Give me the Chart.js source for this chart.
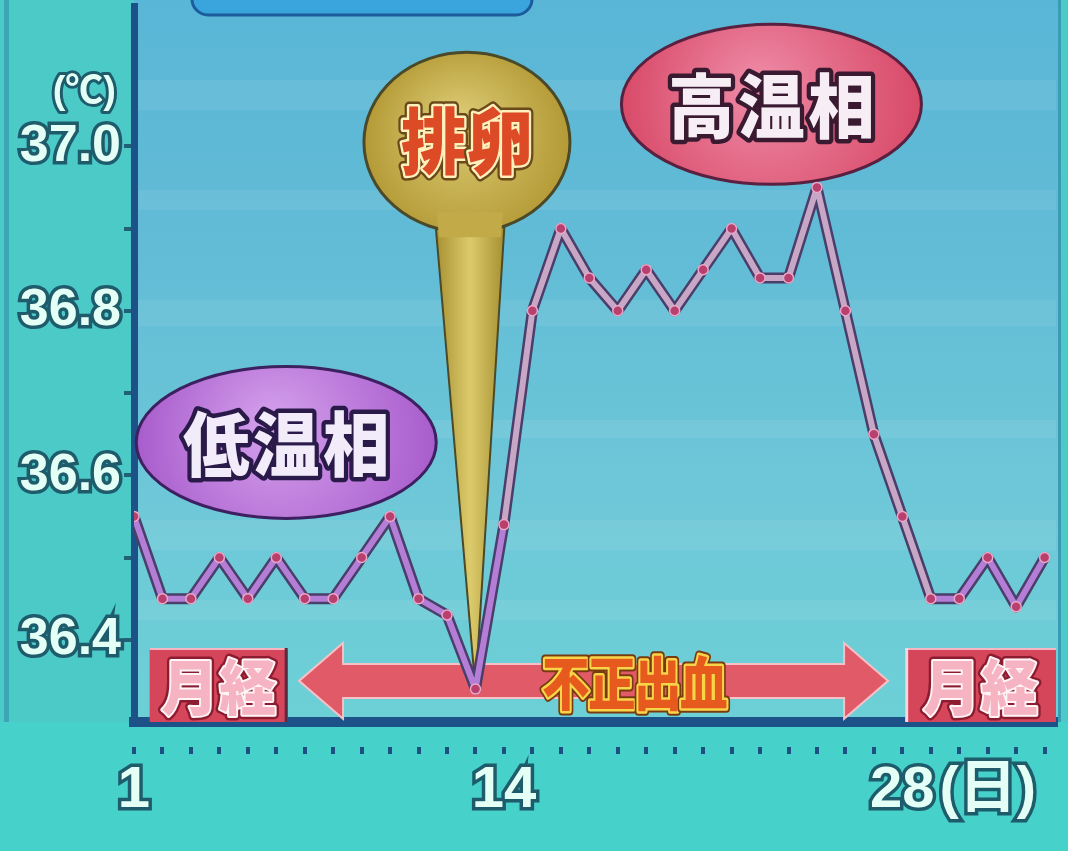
<!DOCTYPE html>
<html>
<head>
<meta charset="utf-8">
<script src="https://cdn.jsdelivr.net/npm/chart.js@4.4.1/dist/chart.umd.min.js"></script>
<style>
  html, body { margin: 0; padding: 0; background: #4ccac8; overflow: hidden; }
</style>
</head>
<body>
<canvas id="chart" width="1068" height="851"></canvas>
<script>
// data (suhu basal per hari)
const days = [1, 2, 3, 4, 5, 6, 7, 8, 9, 10, 11, 12, 13, 14, 15, 16, 17,
              18, 19, 20, 21, 22, 23, 24, 25, 26, 27, 28, 29, 30, 31, 32, 33];
const temps = [36.55, 36.45, 36.45, 36.50, 36.45, 36.50, 36.45, 36.45, 36.50, 36.55,
               36.45, 36.43, 36.34, 36.54, 36.80, 36.90, 36.84, 36.80, 36.85, 36.80,
               36.85, 36.90, 36.84, 36.84, 36.95, 36.80, 36.65, 36.55, 36.45, 36.45,
               36.50, 36.44, 36.50];
const yTicks = [36.4, 36.5, 36.6, 36.7, 36.8, 36.9, 37.0];
const yTickLabels = ['36.4', '', '36.6', '', '36.8', '', '37.0'];
const xTickLabels = { 1: '1', 14: '14', 28: '28', 31: '(日)' };
const unitLabel = '(℃)';

const NUM_FONT = "'Liberation Sans', 'Noto Sans CJK JP', sans-serif";
const CJK_FONT = "'Noto Sans CJK JP', sans-serif";

function outlinedText(ctx, text, x, y, size, fill, strokes, scaleX) {
    ctx.save();
    ctx.translate(x, y);
    ctx.scale(scaleX || 1, 1);
    ctx.font = '900 ' + size + 'px ' + CJK_FONT;
    ctx.textAlign = 'center';
    ctx.textBaseline = 'middle';
    ctx.lineJoin = 'round';
    strokes.forEach(s => {
        ctx.strokeStyle = s[0];
        ctx.lineWidth = s[1];
        ctx.strokeText(text, 0, 0);
    });
    ctx.fillStyle = fill;
    ctx.fillText(text, 0, 0);
    ctx.restore();
}

function chars(ctx, str, cx, cy, step, size, fill, strokes, scaleX) {
    const arr = Array.from(str);
    const start = cx - step * (arr.length - 1) / 2;
    arr.forEach((c, i) => outlinedText(ctx, c, start + i * step, cy, size, fill, strokes, scaleX));
}

function ellipse(ctx, cx, cy, rx, ry, inner, outer, line) {
    const g = ctx.createRadialGradient(cx - rx * 0.1, cy - ry * 0.25, 5, cx, cy, rx);
    g.addColorStop(0, inner);
    g.addColorStop(1, outer);
    ctx.beginPath();
    ctx.ellipse(cx, cy, rx, ry, 0, 0, Math.PI * 2);
    ctx.fillStyle = g;
    ctx.fill();
    ctx.lineWidth = 3;
    ctx.strokeStyle = line;
    ctx.stroke();
}

// latar belakang: area plot biru dan bingkai toska
const backgroundPlugin = {
    id: 'background',
    beforeDraw(chart) {
        const { ctx, chartArea: a, width, height } = chart;
        ctx.save();
        ctx.fillStyle = '#4ccac8';
        ctx.fillRect(0, 0, width, height);
        ctx.fillStyle = '#3aa6b6';
        ctx.fillRect(4, 0, 5, height);
        ctx.fillStyle = '#46d2ca';
        ctx.fillRect(0, a.bottom, width, height - a.bottom);

        const g = ctx.createLinearGradient(0, 0, 0, a.bottom);
        g.addColorStop(0, '#5ab6d6');
        g.addColorStop(0.35, '#62bcd6');
        g.addColorStop(0.7, '#6ec8d8');
        g.addColorStop(1, '#6cd0d6');
        ctx.fillStyle = g;
        ctx.fillRect(a.left, 0, a.right - a.left + 3, a.bottom);
        // garis-garis tipis horizontal
        ctx.fillStyle = 'rgba(255,255,255,0.07)';
        [[80, 30], [190, 20], [300, 26], [420, 18], [520, 30], [600, 20]].forEach(b => {
            ctx.fillRect(a.left, b[0], a.right - a.left, b[1]);
        });
        ctx.fillStyle = '#3a9cb4';
        ctx.fillRect(a.right + 2, 0, 3, a.bottom);

        // kotak biru di atas
        ctx.beginPath();
        ctx.roundRect(192, -40, 340, 55, 16);
        ctx.fillStyle = '#3aa4dc';
        ctx.fill();
        ctx.lineWidth = 3;
        ctx.strokeStyle = '#1c5c9c';
        ctx.stroke();

        // satuan sumbu y
        ctx.font = 'bold 38px ' + NUM_FONT;
        ctx.textAlign = 'right';
        ctx.textBaseline = 'middle';
        ctx.lineJoin = 'round';
        ctx.lineWidth = 6;
        ctx.strokeStyle = '#1e5c6c';
        const yUnit = chart.scales.y.getPixelForValue(37.0) - 54;
        ctx.strokeText(unitLabel, 116, yUnit);
        ctx.fillStyle = '#e4fff6';
        ctx.fillText(unitLabel, 116, yUnit);
        ctx.restore();
    }
};

// label-label fase, panah dan kotak menstruasi
const annotationPlugin = {
    id: 'annotations',
    beforeDatasetsDraw(chart) {
        const { ctx, chartArea: a } = chart;
        const xs = chart.scales.x, ys = chart.scales.y;
        ctx.save();

        // kotak 月経
        const boxTop = ys.getPixelForValue(36.39);
        const boxes = [[xs.getPixelForValue(1.55), xs.getPixelForValue(6.4)],
                       [xs.getPixelForValue(28.1), a.right]];
        boxes.forEach(b => {
            ctx.fillStyle = '#d6465a';
            ctx.fillRect(b[0], boxTop, b[1] - b[0], a.bottom - boxTop);
            ctx.fillStyle = 'rgba(255,210,220,0.8)';
            ctx.fillRect(b[0], boxTop, b[1] - b[0], 2);
            chars(ctx, '月経', (b[0] + b[1]) / 2, (boxTop + a.bottom) / 2 + 2, 58, 60,
                  '#f6b4c2', [['#8c1c30', 9], ['#fff4f6', 4]], 0.95);
        });
        ctx.fillStyle = '#5a2a40';
        ctx.fillRect(boxes[0][1] - 3, boxTop, 3, a.bottom - boxTop);
        ctx.fillStyle = '#f8d8e0';
        ctx.fillRect(boxes[1][0], boxTop, 3, a.bottom - boxTop);

        // panah dua arah
        const ay = ys.getPixelForValue(36.35);
        const x0 = xs.getPixelForValue(6.8), x1 = xs.getPixelForValue(27.5);
        const head = 44, hh = 38, sh = 17;
        ctx.beginPath();
        ctx.moveTo(x0, ay);
        ctx.lineTo(x0 + head, ay - hh);
        ctx.lineTo(x0 + head, ay - sh);
        ctx.lineTo(x1 - head, ay - sh);
        ctx.lineTo(x1 - head, ay - hh);
        ctx.lineTo(x1, ay);
        ctx.lineTo(x1 - head, ay + hh);
        ctx.lineTo(x1 - head, ay + sh);
        ctx.lineTo(x0 + head, ay + sh);
        ctx.lineTo(x0 + head, ay + hh);
        ctx.closePath();
        ctx.fillStyle = '#e05a68';
        ctx.fill();
        ctx.lineWidth = 2;
        ctx.strokeStyle = '#f6c0c6';
        ctx.stroke();

        chars(ctx, '不正出血', xs.getPixelForValue(18.6), ay + 2, 46, 58,
              '#e65a1e', [['#7a3a10', 9], ['#f8d448', 5]], 0.82);

        // balon 排卵
        const bx = xs.getPixelForValue(12.7), by = ys.getPixelForValue(37.0) - 4;
        const tipX = xs.getPixelForValue(13), tipY = ys.getPixelForValue(36.34);
        ctx.beginPath();
        ctx.moveTo(bx - 32, by + 75);
        ctx.lineTo(tipX, tipY);
        ctx.lineTo(bx + 38, by + 75);
        ctx.closePath();
        const tg = ctx.createLinearGradient(bx - 30, 0, bx + 36, 0);
        tg.addColorStop(0, '#a89234');
        tg.addColorStop(0.5, '#dccb6c');
        tg.addColorStop(1, '#a89234');
        ctx.fillStyle = tg;
        ctx.fill();
        ctx.lineWidth = 2;
        ctx.strokeStyle = '#4a4a2a';
        ctx.stroke();
        ellipse(ctx, bx, by, 103, 90, '#dccb74', '#b49a36', '#4a4a2a');
        ctx.beginPath();
        ctx.moveTo(bx - 30, by + 70);
        ctx.lineTo(bx + 36, by + 70);
        ctx.lineTo(bx + 34, by + 95);
        ctx.lineTo(bx - 28, by + 95);
        ctx.closePath();
        ctx.fillStyle = '#c2aa48';
        ctx.fill();
        chars(ctx, '排卵', bx, by - 2, 66, 72,
              '#dc4a26', [['#6a4a1a', 10], ['#fff0bc', 5]], 0.92);

        // elips 低温相
        const lx = xs.getPixelForValue(6.35), ly = ys.getPixelForValue(36.64);
        ellipse(ctx, lx, ly, 150, 76, '#d4a0ec', '#a85ccc', '#3c2060');
        chars(ctx, '低温相', lx, ly + 2, 70, 70,
              '#f2ecfa', [['#2a1a4a', 9]], 0.95);

        // elips 高温相
        const hx = xs.getPixelForValue(23.4), hy = ys.getPixelForValue(37.0) - 42;
        ellipse(ctx, hx, hy, 150, 80, '#ee8aa6', '#d84a68', '#5a2040');
        chars(ctx, '高温相', hx, hy + 2, 70, 70,
              '#f6eef4', [['#3a1a30', 9]], 0.95);

        ctx.restore();
    }
};

const numTick = size => ({
    font: { family: NUM_FONT, size: size, weight: 'bold' },
    color: '#e4fff6',
    textStrokeColor: '#1e5c6c',
    textStrokeWidth: 7
});

const points = days.map((d, i) => ({ x: d, y: temps[i] }));

new Chart(document.getElementById('chart'), {
    type: 'line',
    data: {
        datasets: [{
            label: 'outline',
            data: points,
            borderColor: '#4a3e6a',
            borderWidth: 11,
            borderJoinStyle: 'round',
            borderCapStyle: 'round',
            pointRadius: 0,
            order: 2
        }, {
            label: 'suhu basal',
            data: points,
            borderWidth: 6,
            borderJoinStyle: 'round',
            borderCapStyle: 'round',
            segment: {
                borderColor: c => (c.p0DataIndex >= 13 && c.p0DataIndex <= 27) ? '#c8a6c6' : '#b47ed6'
            },
            pointRadius: 5,
            pointBackgroundColor: '#b8406e',
            pointBorderColor: '#eaa8c8',
            pointBorderWidth: 1.5,
            order: 1
        }]
    },
    options: {
        responsive: false,
        animation: false,
        layout: { padding: { right: 12, top: 0, left: 0, bottom: 0 } },
        plugins: { legend: { display: false }, tooltip: { enabled: false } },
        scales: {
            x: {
                type: 'linear',
                min: 1,
                max: 33.4,
                afterBuildTicks: s => { s.ticks = days.map(d => ({ value: d })); },
                afterFit: s => { s.height = 129; s.paddingLeft = 0; s.paddingRight = 0; },
                ticks: Object.assign({
                    autoSkip: false,
                    maxRotation: 0,
                    padding: 2,
                    callback: v => xTickLabels[v] || ''
                }, numTick(58)),
                grid: {
                    drawOnChartArea: false,
                    tickLength: 32,
                    color: '#1d4f80',
                    lineWidth: 4,
                    tickBorderDash: [12, 200],
                    tickBorderDashOffset: 192
                },
                border: { color: '#1d5288', width: 10 }
            },
            y: {
                min: 36.3,
                max: 37.17,
                afterBuildTicks: s => { s.ticks = yTicks.map(v => ({ value: v })); },
                afterFit: s => { s.width = 134; s.paddingTop = 0; s.paddingBottom = 0; },
                ticks: Object.assign({
                    padding: 3,
                    callback: v => yTickLabels[yTicks.indexOf(v)] || ''
                }, numTick(52)),
                grid: {
                    drawOnChartArea: false,
                    tickLength: 10,
                    color: '#22607a',
                    lineWidth: 4
                },
                border: { color: '#1d5288', width: 7 }
            }
        }
    },
    plugins: [backgroundPlugin, annotationPlugin]
});
</script>
</body>
</html>
